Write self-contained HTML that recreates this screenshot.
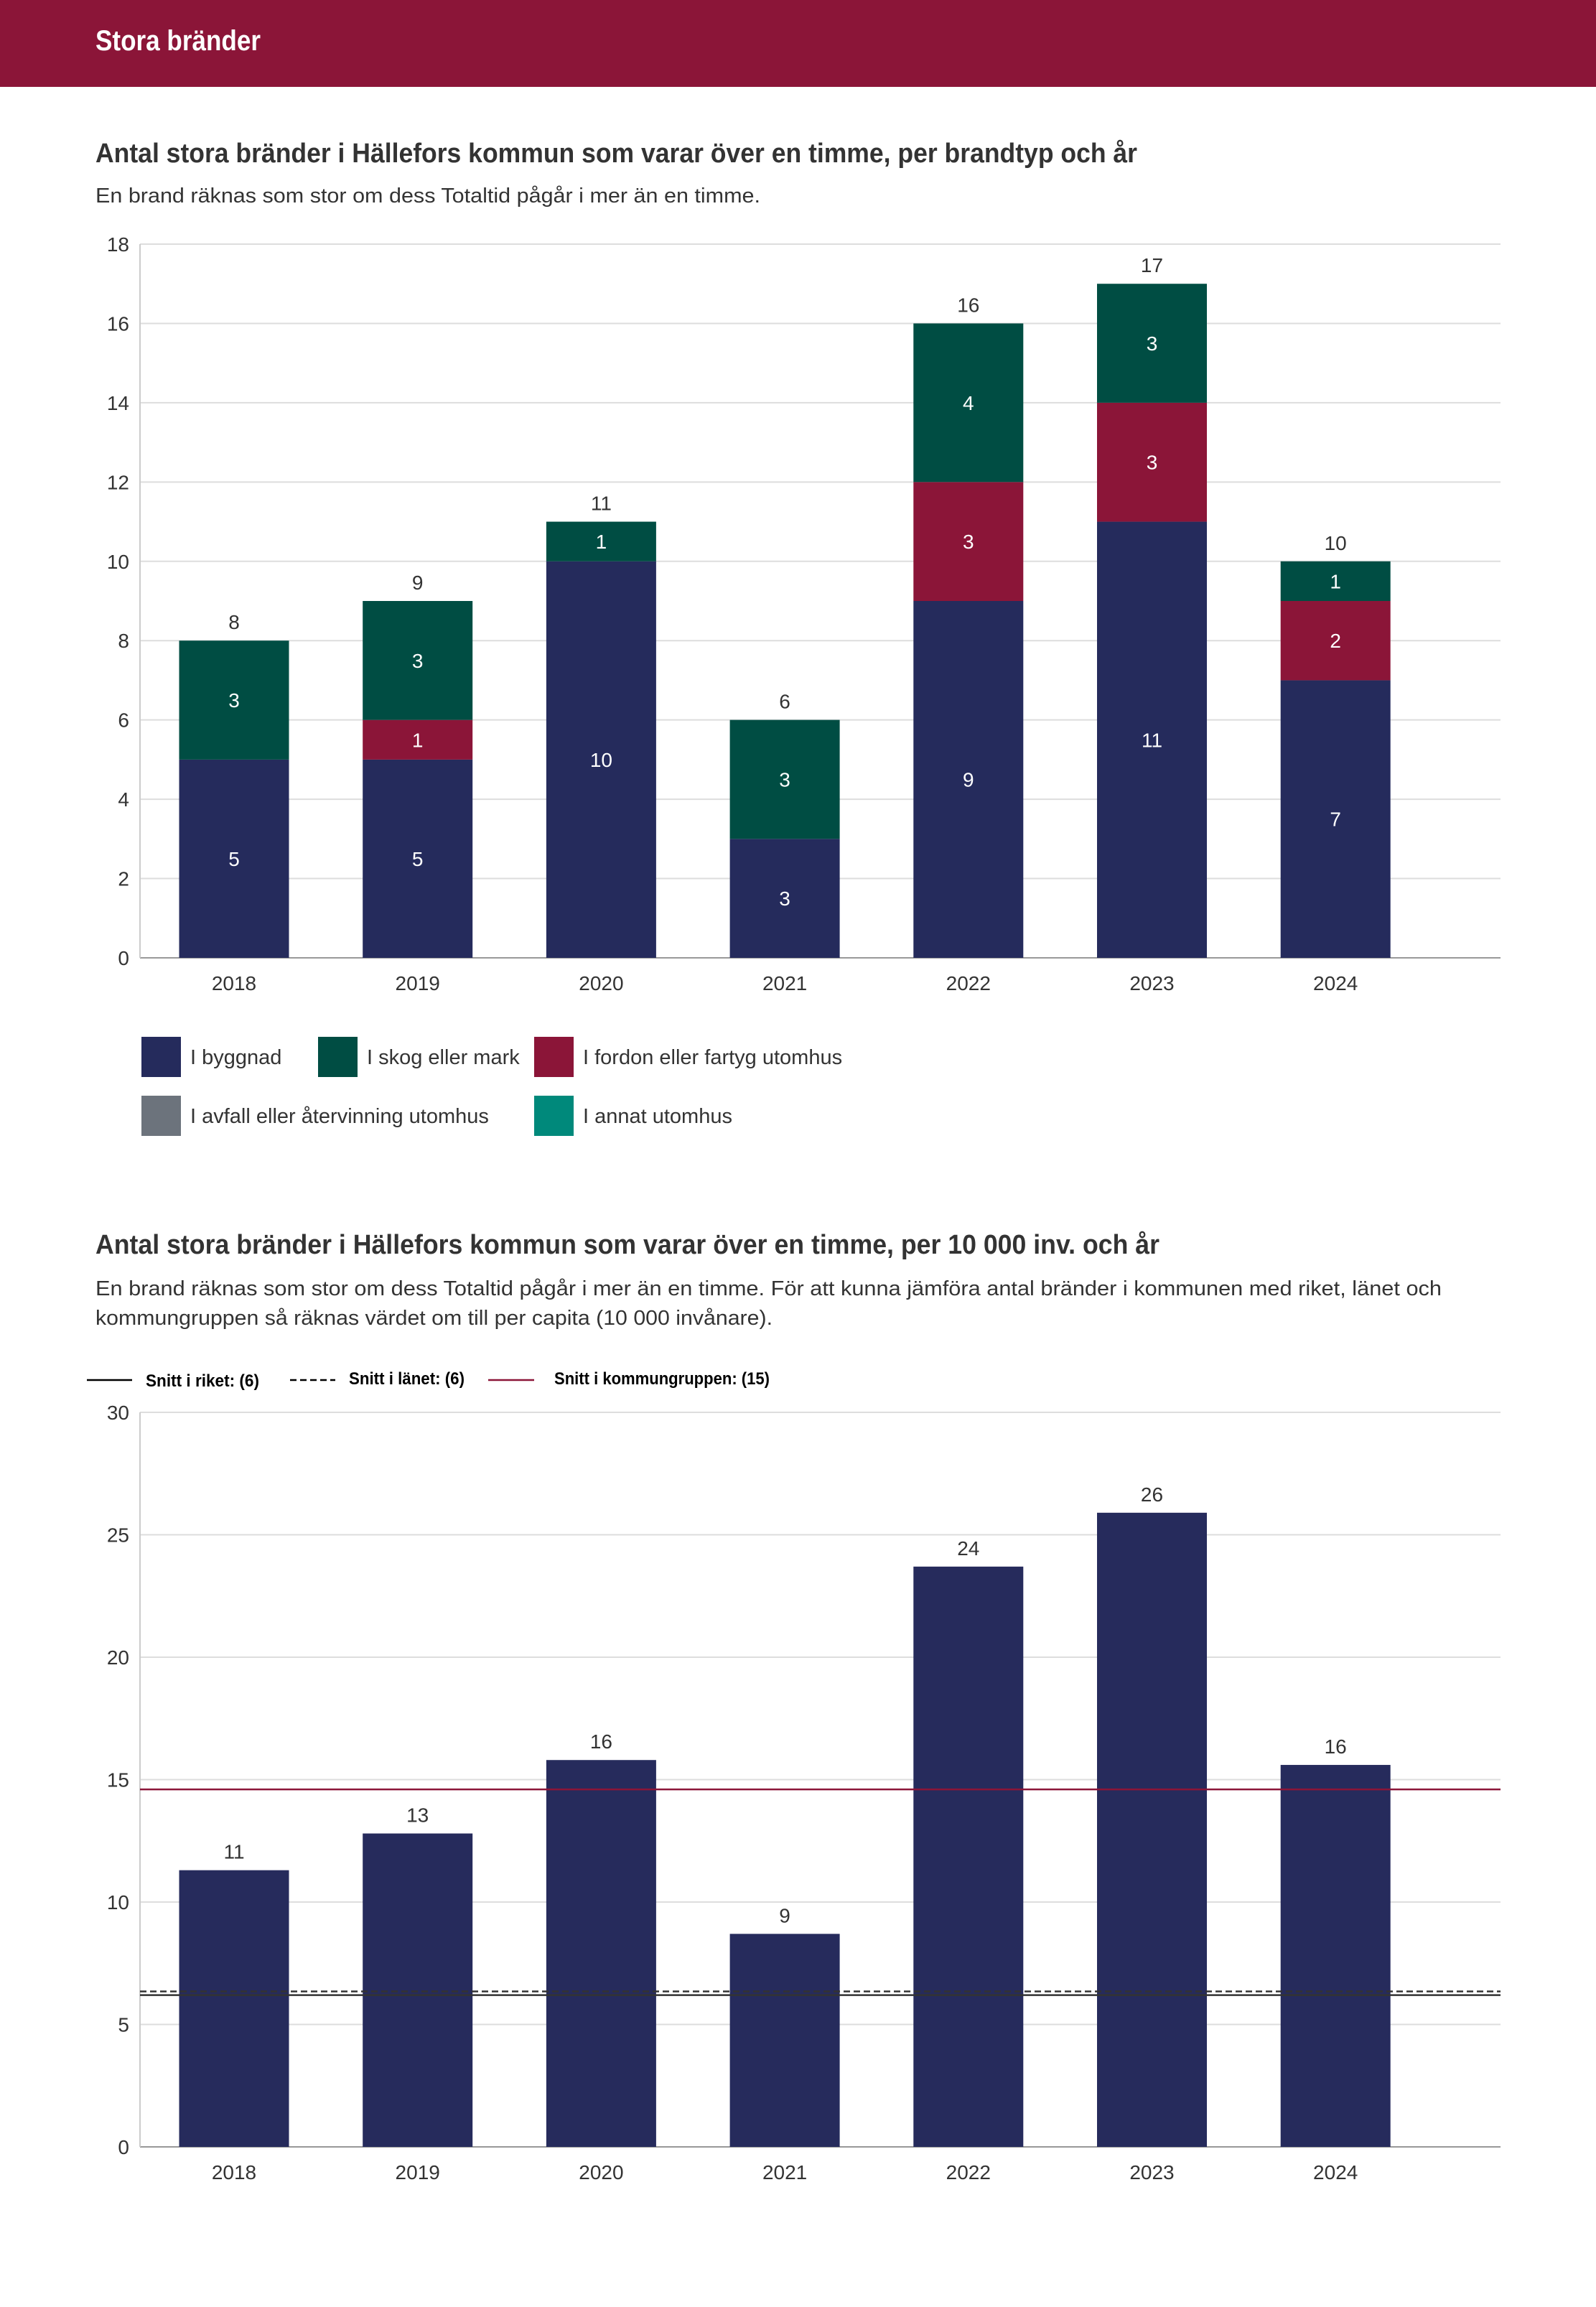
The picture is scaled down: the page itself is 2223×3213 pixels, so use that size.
<!DOCTYPE html>
<html><head><meta charset="utf-8"><style>
html,body{margin:0;padding:0;background:#fff;}
svg{display:block;font-family:"Liberation Sans",sans-serif;}
</style></head><body>
<svg id="page" width="2223" height="3213" viewBox="0 0 2223 3213" xmlns="http://www.w3.org/2000/svg">
<rect x="0" y="0" width="2223" height="121" fill="#8b1538"/>
<text x="133" y="70" font-size="40" font-weight="bold" fill="#fff" textLength="230" lengthAdjust="spacingAndGlyphs">Stora bränder</text>

<text x="133" y="226" font-size="38" font-weight="bold" fill="#333" textLength="1451" lengthAdjust="spacingAndGlyphs">Antal stora bränder i Hällefors kommun som varar över en timme, per brandtyp och år</text>
<text x="133" y="282" font-size="29" fill="#333" textLength="926" lengthAdjust="spacingAndGlyphs">En brand räknas som stor om dess Totaltid pågår i mer än en timme.</text>
<g id="c1"></g>
<g id="leg1"></g>

<text x="133" y="1746" font-size="38" font-weight="bold" fill="#333" textLength="1482" lengthAdjust="spacingAndGlyphs">Antal stora bränder i Hällefors kommun som varar över en timme, per 10 000 inv. och år</text>
<text x="133" y="1804" font-size="29" fill="#333" textLength="1875" lengthAdjust="spacingAndGlyphs">En brand räknas som stor om dess Totaltid pågår i mer än en timme. För att kunna jämföra antal bränder i kommunen med riket, länet och</text>
<text x="133" y="1845" font-size="29" fill="#333" textLength="943" lengthAdjust="spacingAndGlyphs">kommungruppen så räknas värdet om till per capita (10 000 invånare).</text>
<g id="leg2">
<line x1="121" y1="1922" x2="184" y2="1922" stroke="#000" stroke-width="2.5"/>
<text x="203" y="1931" font-size="24" font-weight="bold" fill="#000" textLength="158" lengthAdjust="spacingAndGlyphs">Snitt i riket: (6)</text>
<line x1="404" y1="1922" x2="467" y2="1922" stroke="#000" stroke-width="2.5" stroke-dasharray="9,5"/>
<text x="486" y="1928" font-size="24" font-weight="bold" fill="#000" textLength="161" lengthAdjust="spacingAndGlyphs">Snitt i länet: (6)</text>
<line x1="680" y1="1922" x2="744" y2="1922" stroke="#8b1538" stroke-width="2.5"/>
<text x="772" y="1928" font-size="24" font-weight="bold" fill="#000" textLength="300" lengthAdjust="spacingAndGlyphs">Snitt i kommungruppen: (15)</text>
</g>
<g id="c2"></g>
</svg>
<script>
const years = ["2018","2019","2020","2021","2022","2023","2024"];
const byggnad = [5,5,10,3,9,11,7];
const fordon = [0,1,0,0,3,3,2];
const skog = [3,3,1,3,4,3,1];
const yTicks1 = [0,2,4,6,8,10,12,14,16,18];
const perCapita = [11.3,12.8,15.8,8.7,23.7,25.9,15.6];
const perCapitaLabels = ["11","13","16","9","24","26","16"];
const yTicks2 = [0,5,10,15,20,25,30];
const snittRiket = 6.2;
const snittLanet = 6.35;
const snittKommungrupp = 14.6;
const legendNames = ["I byggnad","I skog eller mark","I fordon eller fartyg utomhus","I avfall eller återvinning utomhus","I annat utomhus"];
const legendColors = ["#252b5c","#004d43","#8b1538","#6c737c","#00897b"];

const NS="http://www.w3.org/2000/svg";
function mk(parent,tag,attrs,text){const e=document.createElementNS(NS,tag);for(const k in attrs)e.setAttribute(k,attrs[k]);if(text!==undefined)e.textContent=text;parent.appendChild(e);return e;}
const X0=195,X1=2090,step=255.7,firstC=326,bw=153;
const xc=i=>firstC+i*step;

// Chart 1
(function(){
 const g=document.getElementById('c1');
 const y0=1334,yTop=340,max=18;
 const y=v=>y0-(v/max)*(y0-yTop);
 yTicks1.forEach(t=>{
  const l=mk(g,'line',{x1:X0,x2:X1,y1:y(t),y2:y(t),stroke:t===0?'#999':'#ddd','stroke-width':2});
  
  
  const tx=mk(g,'text',{x:180,y:y(t)+10,'font-size':28,fill:'#333','text-anchor':'end'},String(t));
  
  
 });
 const ax=mk(g,'line',{x1:X0,x2:X0,y1:yTop,y2:y0,stroke:'#ccc','stroke-width':2});
 
 
 const series=[[byggnad,'#252b5c','byggnad'],[fordon,'#8b1538','fordon'],[skog,'#004d43','skog']];
 years.forEach((yr,i)=>{
  let base=0;
  series.forEach(([arr,col,nm])=>{
   const v=arr[i]; if(!v)return;
   const r=mk(g,'rect',{x:xc(i)-bw/2,y:y(base+v),width:bw,height:y(base)-y(base+v),fill:col});
   
   
   const t=mk(g,'text',{x:xc(i),y:(y(base)+y(base+v))/2+10,'font-size':28,fill:'#fff','text-anchor':'middle'},String(v));
   
   
   base+=v;
  });
  const tt=mk(g,'text',{x:xc(i),y:y(base)-16,'font-size':28,fill:'#333','text-anchor':'middle'},String(base));
  
  
  const xl=mk(g,'text',{x:xc(i),y:y0+45,'font-size':28,fill:'#333','text-anchor':'middle'},yr);
  
  
 });
 const lg=document.getElementById('leg1');
 const pos=[[197,1444],[443,1444],[744,1444],[197,1526],[744,1526]];
 legendNames.forEach((n,i)=>{
  const [lx,ly]=pos[i];
  const s=mk(lg,'rect',{x:lx,y:ly,width:55,height:56,fill:legendColors[i]});
  
  
  const t=mk(lg,'text',{x:lx+68,y:ly+38,'font-size':29,fill:'#333'},n);
  
  
 });
})();

// Chart 2
(function(){
 const g=document.getElementById('c2');
 const y0=2990,yTop=1967,max=30;
 const y=v=>y0-(v/max)*(y0-yTop);
 yTicks2.forEach(t=>{
  const l=mk(g,'line',{x1:X0,x2:X1,y1:y(t),y2:y(t),stroke:t===0?'#999':'#ddd','stroke-width':2});
  
  
  const tx=mk(g,'text',{x:180,y:y(t)+10,'font-size':28,fill:'#333','text-anchor':'end'},String(t));
  
  
 });
 const ax=mk(g,'line',{x1:X0,x2:X0,y1:yTop,y2:y0,stroke:'#ccc','stroke-width':2});
 
 
 years.forEach((yr,i)=>{
  const v=perCapita[i];
  const r=mk(g,'rect',{x:xc(i)-bw/2,y:y(v),width:bw,height:y0-y(v),fill:'#262b5c'});
  
  
  const t=mk(g,'text',{x:xc(i),y:y(v)-16,'font-size':28,fill:'#333','text-anchor':'middle'},perCapitaLabels[i]);
  
  
  const xl=mk(g,'text',{x:xc(i),y:y0+45,'font-size':28,fill:'#333','text-anchor':'middle'},yr);
  
  
 });
 const l1=mk(g,'line',{x1:X0,x2:X1,y1:y(snittLanet),y2:y(snittLanet),stroke:'#333','stroke-width':2.5,'stroke-dasharray':'9,5'});
 
 
 const l2=mk(g,'line',{x1:X0,x2:X1,y1:y(snittRiket),y2:y(snittRiket),stroke:'#333','stroke-width':2.5});
 
 
 const l3=mk(g,'line',{x1:X0,x2:X1,y1:y(snittKommungrupp),y2:y(snittKommungrupp),stroke:'#8b1538','stroke-width':2.5});
 
 
})();
</script>
</body></html>
